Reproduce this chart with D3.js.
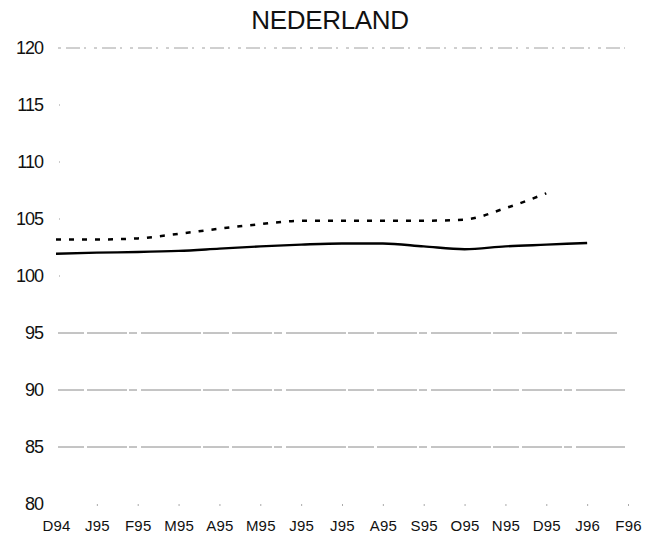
<!DOCTYPE html>
<head>
  <meta charset="utf-8">
  <script src="https://d3js.org/d3.v7.min.js"></script>
  <style>
    body { margin:0; background:#fff; }
    text { font-family: "Liberation Sans", Arial, sans-serif; fill:#111; }
  </style>
</head>
<body>
<script>
  // months on the x axis
  var months = ["D94","J95","F95","M95","A95","M95","J95","J95","A95","S95","O95","N95","D95","J96","F96"]
  // solid line (D94 .. J96)
  var solidValues = [101.95, 102.05, 102.1, 102.2, 102.4, 102.6, 102.75, 102.85, 102.85, 102.6, 102.35, 102.6, 102.75, 102.9]
  // dotted line (D94 .. D95)
  var dashedValues = [103.2, 103.2, 103.3, 103.7, 104.15, 104.55, 104.85, 104.85, 104.85, 104.85, 104.95, 105.95, 107.25]
  var yTicks = [120, 115, 110, 105, 100, 95, 90, 85, 80]
  var gridValues = [120, 95, 90, 85]

  var svg = d3.select("body")
    .append("svg")
    .attr("width", 662)
    .attr("height", 537)

  var x = d3.scalePoint()
    .domain(d3.range(months.length))
    .range([56, 628])

  var y = d3.scaleLinear()
    .domain([80, 120])
    .range([504, 48])

  // title
  svg.append("text")
    .attr("x", 330)
    .attr("y", 29)
    .attr("text-anchor", "middle")
    .style("font-size", "26px")
    .style("letter-spacing", "-0.3px")
    .text("NEDERLAND")

  // grey, broken looking grid lines
  svg.selectAll(".grid").data(gridValues).enter()
    .append("line")
    .attr("class", "grid")
    .attr("x1", 58)
    .attr("x2", function(d) { return d == 95 ? 617 : 625 })
    .attr("y1", function(d) { return y(d) })
    .attr("y2", function(d) { return y(d) })
    .attr("stroke", function(d) { return d == 120 ? "#a0a0a0" : "#8a8a8a" })
    .attr("stroke-width", 1)
    .attr("stroke-dasharray", function(d) { return d == 120 ? "3,5,14,4,2,8" : "26,3,40,2,8,4,60,2" })

  // y labels
  var yAxis = d3.axisLeft(y)
    .tickValues(yTicks)
    .tickSize(0)
    .tickPadding(0)
    .tickFormat(d3.format("d"))

  svg.append("g")
    .attr("transform", "translate(43,0)")
    .call(yAxis)
    .call(function(g) { g.select(".domain").remove() })
    .selectAll("text")
    .style("font-size", "18px")
    .style("letter-spacing", "-1px")

  // little specks at the unlined ticks
  svg.selectAll(".speck").data([115, 110, 105, 100]).enter()
    .append("rect")
    .attr("x", 59)
    .attr("y", function(d) { return y(d) - 0.5 })
    .attr("width", 1)
    .attr("height", 1)
    .attr("fill", "#999")

  // x labels
  var xAxis = d3.axisBottom(x)
    .tickSize(2)
    .tickPadding(14)
    .tickFormat(function(i) { return months[i] })

  svg.append("g")
    .attr("transform", "translate(0,504)")
    .call(xAxis)
    .call(function(g) { g.select(".domain").remove() })
    .call(function(g) {
      g.selectAll(".tick line").attr("stroke", "#aaa")
        .attr("display", function(d) { return d == 0 ? "none" : null })
    })
    .selectAll("text")
    .style("font-size", "15px")
    .style("letter-spacing", "0.2px")

  var line = d3.line()
    .x(function(d, i) { return x(i) })
    .y(function(d) { return y(d) })
    .curve(d3.curveMonotoneX)

  svg.append("path")
    .datum(dashedValues)
    .attr("d", line)
    .attr("fill", "none")
    .attr("stroke", "#000")
    .attr("stroke-width", 2.5)
    .attr("stroke-dasharray", "5,8")

  svg.append("path")
    .datum(solidValues)
    .attr("d", line)
    .attr("fill", "none")
    .attr("stroke", "#000")
    .attr("stroke-width", 2.4)
</script>
</body>
